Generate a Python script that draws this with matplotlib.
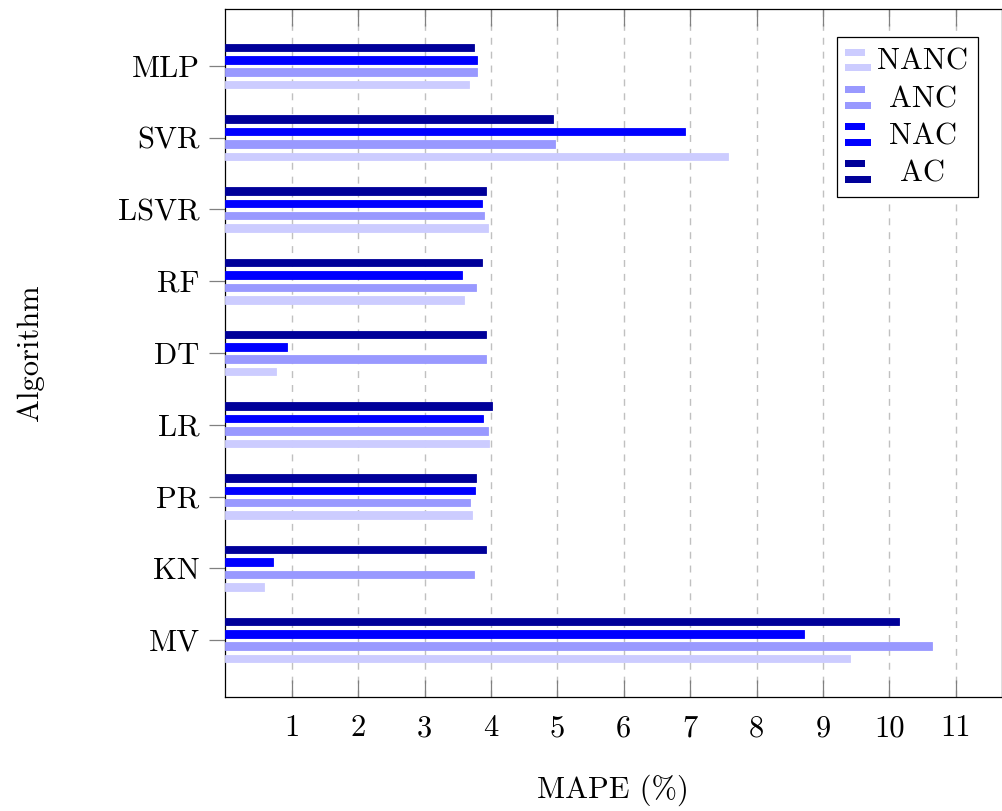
import matplotlib
import numpy as np

matplotlib.use("Agg")
import matplotlib.pyplot as plt
from matplotlib.patches import Rectangle

plt.rcParams['font.family'] = 'cmr10'
plt.rcParams['mathtext.fontset'] = 'cm'
plt.rcParams['axes.unicode_minus'] = False

# data, listed top to bottom as in the chart
algorithms = ['MLP', 'SVR', 'LSVR', 'RF', 'DT', 'LR', 'PR', 'KN', 'MV']
nanc = [3.67, 7.57, 3.95, 3.60, 0.77, 3.97, 3.72, 0.59, 9.40]
anc = [3.79, 4.97, 3.89, 3.77, 3.92, 3.96, 3.69, 3.75, 10.64]
nac = [3.79, 6.92, 3.86, 3.57, 0.93, 3.88, 3.76, 0.72, 8.71]
ac = [3.74, 4.94, 3.92, 3.87, 3.93, 4.01, 3.77, 3.92, 10.14]
series_names = ['NANC', 'ANC', 'NAC', 'AC']
colors = ['#ccccff', '#9999ff', '#0000ff', '#000099']
xticks = list(range(1, 12))

W, H = 1003, 811
FS = 22
fig = plt.figure(figsize=(W / 100, H / 100), dpi=100)
ax = fig.add_axes([225.3 / W, 1 - 697 / H, (1001.7 - 225.3) / W, (697 - 9) / H])

n = len(algorithms)
y = np.arange(n)[::-1]
step = 0.173
height = 0.105
offsets = [-1.5 * step, -0.5 * step, 0.5 * step, 1.5 * step]
for vals, c, off in zip([nanc, anc, nac, ac], colors, offsets):
    ax.barh(y + off, vals, height=height, color=c, edgecolor=c, linewidth=0.6, zorder=3)

ax.set_xlim(0, 11.69)
ax.set_ylim(-0.794, 8.794)
ax.set_xticks(xticks)
ax.set_xticklabels([str(t) for t in xticks])
ax.set_yticks(y)
ax.set_yticklabels(algorithms)

ax.grid(axis='x', color='#c0c0c0', linestyle=(0, (5, 5)), linewidth=1.0, zorder=0)
ax.tick_params(axis='x', direction='in', top=True, bottom=True, length=12.5,
               color='#808080', width=0.9, labelsize=FS, pad=13)
ax.tick_params(axis='y', direction='out', left=True, right=False, length=11.5,
               color='#808080', width=0.9, labelsize=FS, pad=7)
for s in ax.spines.values():
    s.set_linewidth(0.9)

fig.text(613 / W, 1 - 790 / H, 'MAPE (%)', fontsize=FS, ha='center', va='center')
fig.text(30 / W, 1 - 353 / H, 'Algorithm', fontsize=FS, ha='center', va='center', rotation=90)

# legend drawn by hand, pgfplots style
def fx(px):
    return px / W

def fy(py):
    return 1 - py / H

fig.patches.append(Rectangle((fx(837), fy(197)), fx(978) - fx(837), fy(37) - fy(197),
                             transform=fig.transFigure, facecolor='white',
                             edgecolor='black', linewidth=0.9, zorder=5))
centers = [60, 97.5, 134.5, 171.5]
for name, c, cy in zip(series_names, colors, centers):
    fig.patches.append(Rectangle((fx(845), fy(cy - 4.5)), fx(865) - fx(845), 7 / H,
                                 transform=fig.transFigure, facecolor=c,
                                 edgecolor='none', zorder=6))
    fig.patches.append(Rectangle((fx(845), fy(cy + 11)), fx(871) - fx(845), 7 / H,
                                 transform=fig.transFigure, facecolor=c,
                                 edgecolor='none', zorder=6))
    fig.text(fx(923), fy(cy + 10), name, fontsize=FS, ha='center', va='baseline', zorder=7)

fig.savefig('out.png', dpi=100)
